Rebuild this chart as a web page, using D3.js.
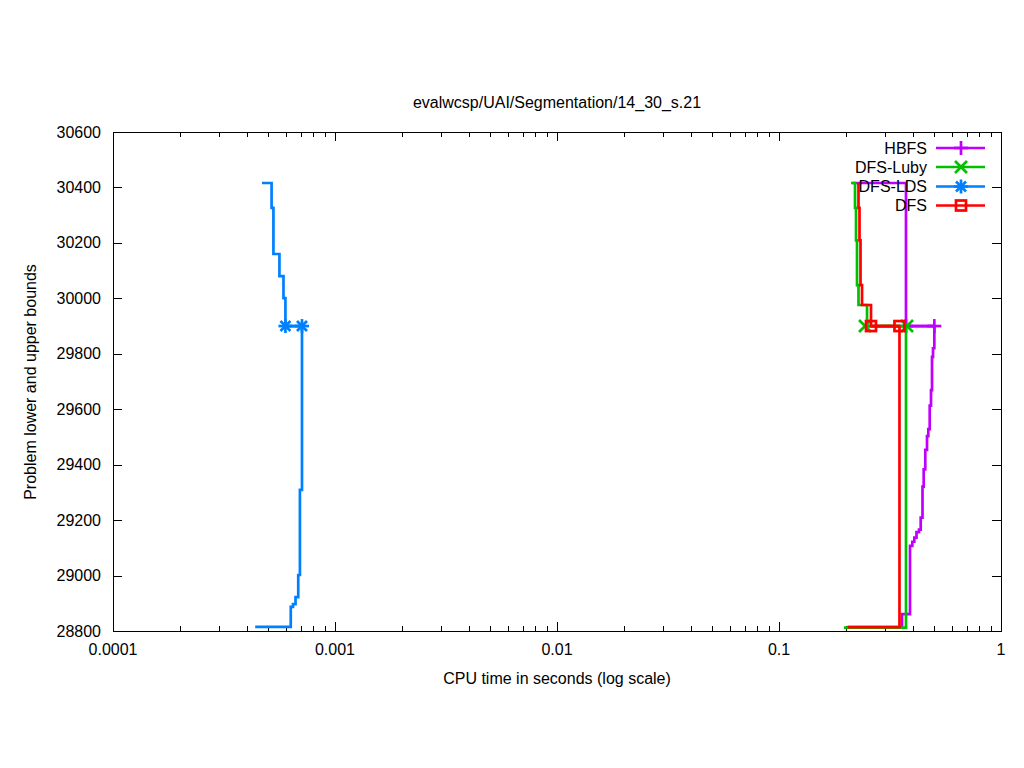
<!DOCTYPE html>
<html>
<head>
<meta charset="utf-8">
<script src="https://cdn.jsdelivr.net/npm/d3@7"></script>
<style>
html,body{margin:0;padding:0;background:#fff;}
text{font-family:"Liberation Sans",Arial,sans-serif;font-size:16px;fill:#000;}
</style>
</head>
<body>
<svg id="chart" width="1024" height="768"></svg>
<script>
// ---- data ----
const titleText = "evalwcsp/UAI/Segmentation/14_30_s.21";
const xLabelText = "CPU time in seconds (log scale)";
const yLabelText = "Problem lower and upper bounds";
const xTickValues = [0.0001, 0.001, 0.01, 0.1, 1];
const xTickLabels = ["0.0001", "0.001", "0.01", "0.1", "1"];
const yTickValues = [28800, 29000, 29200, 29400, 29600, 29800, 30000, 30200, 30400, 30600];
const seriesNames = ["HBFS", "DFS-Luby", "DFS-LDS", "DFS"];
const seriesColors = ["#c000ff", "#00c000", "#0080ff", "#ff0000"];
const seriesMarkers = ["plus", "cross", "star", "square"];

// HBFS
const hbfsUpperT = [0.2133, 0.3733, 0.5008];
const hbfsUpperV = [30416, 29900, 29900];
const hbfsLowerT = [0.2025, 0.3583, 0.3892, 0.3986, 0.4070, 0.4163, 0.4272, 0.4348, 0.4430, 0.4485, 0.4560, 0.4642, 0.4705, 0.4774, 0.4839, 0.4890, 0.4941, 0.5008];
const hbfsLowerV = [28814, 28861, 29107, 29122, 29137, 29157, 29166, 29209, 29321, 29383, 29453, 29503, 29528, 29613, 29669, 29789, 29820, 29900];
const hbfsMarkT = [0.3733, 0.5008];
// DFS-Luby
const lubyUpperT = [0.2111, 0.2200, 0.2223, 0.2246, 0.2281, 0.2492, 0.3772];
const lubyUpperV = [30416, 30326, 30209, 30048, 29976, 29900, 29900];
const lubyLowerT = [0.1963, 0.3733, 0.3772];
const lubyLowerV = [28812, 29900, 29900];
const lubyMarkT = [0.2441, 0.3772];
// DFS-LDS
const ldsUpperT = [0.000469, 0.000518, 0.000528, 0.000562, 0.000586, 0.000598, 0.000710];
const ldsUpperV = [30416, 30326, 30160, 30080, 30001, 29900, 29900];
const ldsLowerT = [0.000437, 0.000632, 0.000647, 0.000664, 0.000683, 0.000695, 0.000710];
const ldsLowerV = [28815, 28887, 28897, 28922, 29002, 29309, 29900];
const ldsMarkT = [0.000598, 0.000710];
// DFS
const dfsUpperT = [0.2246, 0.2281, 0.2305, 0.2329, 0.2366, 0.2597, 0.3489];
const dfsUpperV = [30412, 30326, 30209, 30048, 29976, 29900, 29900];
const dfsLowerT = [0.2046, 0.3489];
const dfsLowerV = [28814, 29900];
const dfsMarkT = [0.2597, 0.3489];
const optimumValue = 29900;

// ---- layout ----
const svg = d3.select("#chart");
const L = 113, R = 1001, T = 132, B = 631;
const x = d3.scaleLog().domain([0.0001, 1]).range([L, R]);
const y = d3.scaleLinear().domain([28800, 30600]).range([B, T]);

// title & labels
svg.append("text").attr("x", 557).attr("y", 108).attr("text-anchor", "middle").text(titleText);
svg.append("text").attr("x", 557).attr("y", 684).attr("text-anchor", "middle").text(xLabelText);
svg.append("text").attr("transform", "translate(36,382) rotate(-90)").attr("text-anchor", "middle").text(yLabelText);

// ticks
const tg = svg.append("g").attr("stroke", "#000").attr("stroke-width", 1);
yTickValues.forEach(v => {
  const yy = Math.round(y(v)) + 0.5;
  if (v !== 28800 && v !== 30600) {
    tg.append("line").attr("x1", L).attr("x2", L + 9).attr("y1", yy).attr("y2", yy);
    tg.append("line").attr("x1", R - 9).attr("x2", R).attr("y1", yy).attr("y2", yy);
  }
  svg.append("text").attr("x", 101).attr("y", y(v) + 5.5).attr("text-anchor", "end").text(v);
});
const minorTicks = [];
for (let d = -4; d < 0; d++) for (let m = 2; m <= 9; m++) minorTicks.push(m * Math.pow(10, d));
minorTicks.forEach(t => {
  const xx = Math.round(x(t)) + 0.5;
  tg.append("line").attr("x1", xx).attr("x2", xx).attr("y1", B).attr("y2", B - 5);
  tg.append("line").attr("x1", xx).attr("x2", xx).attr("y1", T).attr("y2", T + 5);
});
xTickValues.forEach((t, i) => {
  const xx = Math.round(x(t)) + 0.5;
  tg.append("line").attr("x1", xx).attr("x2", xx).attr("y1", B).attr("y2", B - 9);
  tg.append("line").attr("x1", xx).attr("x2", xx).attr("y1", T).attr("y2", T + 9);
  svg.append("text").attr("x", x(t)).attr("y", 655).attr("text-anchor", "middle").text(xTickLabels[i]);
});
svg.append("rect").attr("x", L + 0.5).attr("y", T + 0.5).attr("width", R - L).attr("height", B - T)
  .attr("fill", "none").attr("stroke", "#000").attr("stroke-width", 1);

// markers
function marker(g, kind, cx, cy, color) {
  const s = 7;
  const m = g.append("g").attr("stroke", color).attr("stroke-width", 2.7).attr("fill", "none");
  if (kind === "plus" || kind === "star") {
    m.append("line").attr("x1", cx - s).attr("x2", cx + s).attr("y1", cy).attr("y2", cy);
    m.append("line").attr("x1", cx).attr("x2", cx).attr("y1", cy - s).attr("y2", cy + s);
  }
  if (kind === "cross" || kind === "star") {
    const k = kind === "star" ? 5 : 6;
    m.append("line").attr("x1", cx - k).attr("x2", cx + k).attr("y1", cy - k).attr("y2", cy + k);
    m.append("line").attr("x1", cx - k).attr("x2", cx + k).attr("y1", cy + k).attr("y2", cy - k);
  }
  if (kind === "square") {
    m.append("rect").attr("x", cx - 5).attr("y", cy - 5).attr("width", 10).attr("height", 10);
  }
}

const line = d3.line().x(d => x(d[0])).y(d => y(d[1])).curve(d3.curveStepAfter);
const series = [
  [hbfsUpperT, hbfsUpperV, hbfsLowerT, hbfsLowerV, hbfsMarkT],
  [lubyUpperT, lubyUpperV, lubyLowerT, lubyLowerV, lubyMarkT],
  [ldsUpperT, ldsUpperV, ldsLowerT, ldsLowerV, ldsMarkT],
  [dfsUpperT, dfsUpperV, dfsLowerT, dfsLowerV, dfsMarkT]
];
const plotG = svg.append("g");
series.forEach((s, i) => {
  const c = seriesColors[i];
  const up = s[0].map((t, j) => [t, s[1][j]]);
  const lo = s[2].map((t, j) => [t, s[3][j]]);
  plotG.append("path").attr("d", line(up)).attr("fill", "none").attr("stroke", c).attr("stroke-width", 2.7);
  plotG.append("path").attr("d", line(lo)).attr("fill", "none").attr("stroke", c).attr("stroke-width", 2.7);
  plotG.append("path").attr("d", d3.line()([[x(s[4][0]), y(optimumValue)], [x(s[4][1]), y(optimumValue)]]))
    .attr("stroke", c).attr("stroke-width", 2.7);
  s[4].forEach(t => marker(plotG, seriesMarkers[i], x(t), y(optimumValue), c));
});

// legend
const legY = [148, 167, 186.5, 205.5];
seriesNames.forEach((n, i) => {
  const c = seriesColors[i];
  svg.append("line").attr("x1", 936).attr("x2", 985).attr("y1", legY[i]).attr("y2", legY[i])
    .attr("stroke", c).attr("stroke-width", 2.7);
  marker(svg, seriesMarkers[i], 961, legY[i], c);
  svg.append("text").attr("x", 927).attr("y", legY[i] + 5.5).attr("text-anchor", "end").text(n);
});
</script>
</body>
</html>
